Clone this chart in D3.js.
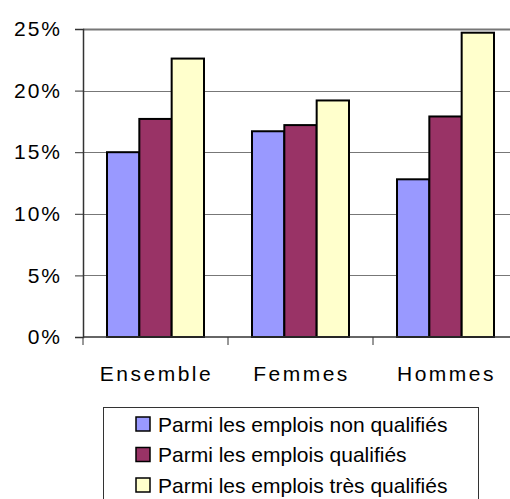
<!DOCTYPE html>
<html>
<head>
<meta charset="utf-8">
<script src="https://cdn.jsdelivr.net/npm/d3@7"></script>
<style>
  body { margin: 0; background: #fff; }
  svg { display: block; font-family: "Liberation Sans", Arial, sans-serif; }
</style>
</head>
<body>
<div id="chart"></div>
<script>
// categories and series
const categories = ["Ensemble", "Femmes", "Hommes"];
const seriesNames = [
  "Parmi les emplois non qualifiés",
  "Parmi les emplois qualifiés",
  "Parmi les emplois très qualifiés"
];
const nonQualifies = [15.0, 16.7, 12.8];
const qualifies = [17.7, 17.2, 17.9];
const tresQualifies = [22.6, 19.2, 24.7];
const yTicks = [0, 5, 10, 15, 20, 25];

const colors = ["#9999ff", "#993366", "#ffffcc"];
const values = [nonQualifies, qualifies, tresQualifies];

const width = 510, height = 499;
const margin = {top: 29, left: 83, plotW: 435, plotH: 308};

const svg = d3.select("#chart").append("svg")
  .attr("width", width)
  .attr("height", height);

const x = d3.scaleBand().domain(categories).range([0, margin.plotW]);
const inner = d3.scaleBand().domain(d3.range(3)).range([24, x.bandwidth() - 24]);
const y = d3.scaleLinear().domain([0, 25]).range([margin.plotH, 0]);

const g = svg.append("g")
  .attr("transform", "translate(" + margin.left + "," + margin.top + ")");

// gridlines
g.append("g")
  .selectAll("line")
  .data(yTicks.filter(d => d > 0))
  .enter()
  .append("line")
  .attr("x1", 0)
  .attr("x2", margin.plotW)
  .attr("y1", d => Math.round(y(d)) + 0.5)
  .attr("y2", d => Math.round(y(d)) + 0.5)
  .attr("stroke", "#777")
  .attr("stroke-width", d => d == 25 ? 2 : 1);

// bars
categories.forEach(function(c, i) {
  values.forEach(function(s, j) {
    g.append("rect")
      .attr("x", x(c) + inner(j))
      .attr("y", y(s[i]))
      .attr("width", inner.bandwidth())
      .attr("height", y(0) - y(s[i]))
      .attr("fill", colors[j])
      .attr("stroke", "#000")
      .attr("stroke-width", 2);
  });
});

// y axis
const yAxis = g.append("g")
  .call(d3.axisLeft(y).tickValues(yTicks).tickSize(8).tickPadding(13)
    .tickFormat(d => d + "%"));
yAxis.select(".domain").attr("stroke", "#333").attr("stroke-width", 1.5);
yAxis.selectAll(".tick line").attr("stroke", "#333");
yAxis.selectAll("text")
  .attr("font-size", 21)
  .attr("fill", "#000")
  .attr("font-family", "Liberation Sans, Arial, sans-serif")
  .style("letter-spacing", "2px");

// x axis
const xAxis = g.append("g")
  .attr("transform", "translate(0," + margin.plotH + ")");
xAxis.append("line")
  .attr("x1", 0).attr("x2", margin.plotW)
  .attr("stroke", "#333").attr("stroke-width", 1.5);
xAxis.selectAll(".sep")
  .data(categories)
  .enter()
  .append("line")
  .attr("x1", d => x(d)).attr("x2", d => x(d))
  .attr("y1", 0).attr("y2", 8)
  .attr("stroke", "#333");
xAxis.selectAll(".lbl")
  .data(categories)
  .enter()
  .append("text")
  .attr("x", d => x(d) + x.bandwidth() / 2 + 1)
  .attr("y", 44)
  .attr("text-anchor", "middle")
  .attr("font-size", 21)
  .style("letter-spacing", "2.5px")
  .text(d => d);

// legend
const legend = svg.append("g").attr("transform", "translate(103,407)");
legend.append("rect")
  .attr("x", 0.5).attr("y", 0.5)
  .attr("width", 375).attr("height", 120)
  .attr("fill", "#fff")
  .attr("stroke", "#333");
seriesNames.forEach(function(name, j) {
  const row = legend.append("g").attr("transform", "translate(0," + (10 + j * 30.5) + ")");
  row.append("rect")
    .attr("x", 33).attr("y", 0)
    .attr("width", 14).attr("height", 14)
    .attr("fill", colors[j])
    .attr("stroke", "#000")
    .attr("stroke-width", 1.5);
  row.append("text")
    .attr("x", 55).attr("y", 14.5)
    .attr("font-size", 21)
    .text(name);
});
</script>
</body>
</html>
